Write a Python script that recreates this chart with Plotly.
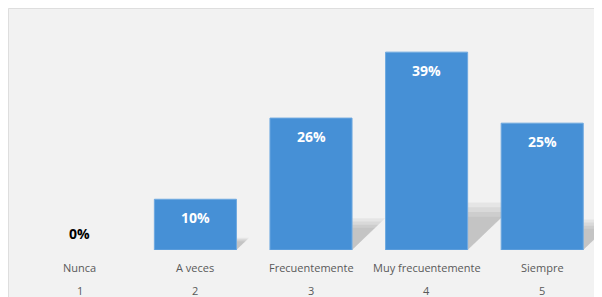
import plotly.graph_objects as go

categories = ["Nunca", "A veces", "Frecuentemente", "Muy frecuentemente", "Siempre"]
codes = [1, 2, 3, 4, 5]
values = [0, 10, 26, 39, 25]
value_labels = ["0%", "10%", "26%", "39%", "25%"]

W, H = 594, 289
ML, MR, MT, MB = 14, 2, 1, 46.5
plot_w = W - ML - MR
plot_h = H - MT - MB
YMAX = 47.5
bar_frac = 0.71

fig = go.Figure()
fig.add_trace(go.Bar(
    x=codes, y=values, width=bar_frac,
    marker=dict(color="#4690d6",
                line=dict(color="#6fa9e0", width=[1 if v > 0 else 0 for v in values])),
    hoverinfo="skip",
))

shapes = []
# faint panel border
shapes.append(dict(
    type="rect", xref="paper", yref="paper", layer="below",
    x0=-ML / plot_w + 0.5 / plot_w, x1=1 + MR / plot_w + 2 / plot_w,
    y0=-MB / plot_h - 2 / plot_h, y1=1 + MT / plot_h - 0.5 / plot_h,
    fillcolor="#f2f2f2", line=dict(color="#dedede", width=1),
))
# soft perspective shadows derived from values
for c, v in zip(codes, values):
    if v <= 0:
        continue
    xr = c + bar_frac / 2
    hs = 0.24 * v
    ws = 0.011 * v
    for k, a in [(1.0, 0.05), (0.9, 0.05), (0.8, 0.05), (0.7, 0.04)]:
        shapes.append(dict(
            type="path", xref="x", yref="y", layer="below",
            path=f"M {xr},0 L {xr},{hs * k} L {xr + ws * k},{hs * k} Z",
            fillcolor=f"rgba(0,0,0,{a})", line=dict(width=0),
        ))

annotations = []
for c, v, lab in zip(codes, values, value_labels):
    if v > 0:
        annotations.append(dict(
            x=c, y=v, xref="x", yref="y", text=lab, showarrow=False,
            yanchor="top", yshift=-7,
            font=dict(family="Open Sans", size=14, color="white", weight="bold"),
        ))
    else:
        annotations.append(dict(
            x=c, y=v, xref="x", yref="y", text=lab, showarrow=False,
            yanchor="bottom", yshift=5,
            font=dict(family="Open Sans", size=14, color="black", weight="bold"),
        ))
for c, name in zip(codes, categories):
    annotations.append(dict(
        x=c, y=0, xref="x", yref="y", text=name, showarrow=False,
        yanchor="middle", yshift=-17.5,
        font=dict(family="Open Sans", size=11, color="#595959"),
    ))
    annotations.append(dict(
        x=c, y=0, xref="x", yref="y", text=str(c), showarrow=False,
        yanchor="middle", yshift=-40,
        font=dict(family="Open Sans", size=11, color="#595959"),
    ))

fig.update_layout(
    width=W, height=H,
    margin=dict(l=ML, r=MR, t=MT, b=MB, pad=0),
    paper_bgcolor="#f2f2f2", plot_bgcolor="rgba(0,0,0,0)",
    showlegend=False,
    xaxis=dict(range=[0.5, 5.5], showticklabels=False, showgrid=False,
               zeroline=False, showline=False, ticks=""),
    yaxis=dict(range=[0, YMAX], showticklabels=False, showgrid=False,
               zeroline=False, showline=False, ticks=""),
    shapes=shapes, annotations=annotations,
)

fig.write_html(
    "out.html",
    post_script="document.documentElement.style.overflow='hidden';"
                "document.body.style.overflow='hidden';",
)
